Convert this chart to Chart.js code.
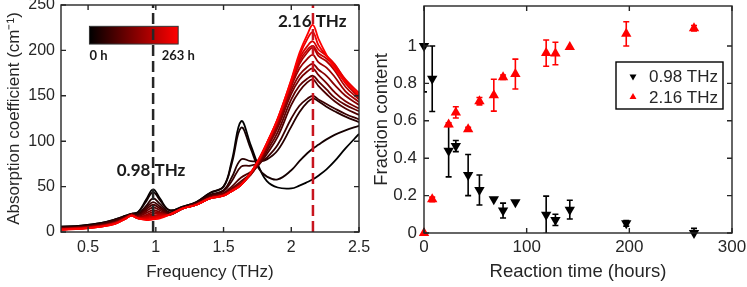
<!DOCTYPE html>
<html>
<head>
<meta charset="utf-8">
<script src="https://cdn.jsdelivr.net/npm/chart.js@4.4.0/dist/chart.umd.min.js"></script>
<style>
  html, body { margin: 0; padding: 0; background: #fff; }
  #wrap { position: relative; width: 747px; height: 287px; }
  canvas { position: absolute; top: 0; }
  #spec { left: 0; }
  #frac { left: 370px; }
</style>
</head>
<body>
<div id="wrap">
  <canvas id="spec" width="370" height="287"></canvas>
  <canvas id="frac" width="377" height="287"></canvas>
</div>
<script>
// ─── DATA ───
// reaction times (hours) of the spectra and of the fraction points
const TIME = [0, 8, 24, 31, 43, 54, 68, 77, 89, 119, 128, 142, 197, 263];

// frequency grid of the spectra (THz)
const FREQ = [0.3, 0.45, 0.6, 0.7, 0.78, 0.82, 0.87, 0.93, 0.98, 1.03, 1.1, 1.2, 1.3, 1.4, 1.5,
              1.56, 1.63, 1.7, 1.76, 1.82, 1.9, 2.0, 2.06, 2.12, 2.16, 2.2, 2.26, 2.32, 2.4, 2.5];

// absorption coefficient (cm^-1), one array per reaction time
const ABS_0H   = [6, 7, 10, 14, 18, 20, 22, 36, 47, 37, 24, 28, 33, 43, 50, 78, 122, 96, 72, 56, 49, 48, 51, 55, 58, 62, 69, 78, 92, 108];
const ABS_8H   = [6, 7, 10, 14, 18, 20, 22, 34, 44, 35, 24, 28, 33, 43, 50, 75, 115, 92, 70, 61, 58, 68, 78, 87, 92, 96, 102, 107, 112, 117];
const ABS_24H  = [5, 6, 9, 13, 17, 20, 20, 29, 37, 31, 22, 27, 32, 41, 46, 60, 80, 78, 78, 80, 90, 116, 132, 143, 147, 144, 138, 133, 127, 121];
const ABS_31H  = [5, 6, 9, 13, 17, 19, 19, 27, 33, 28, 21, 27, 32, 40, 45, 56, 72, 73, 76, 82, 96, 125, 139, 147, 150, 146, 141, 136, 130, 124];
const ABS_43H  = [4, 5, 8, 12, 17, 19, 18, 25, 30, 26, 20, 26, 31, 39, 43, 50, 60, 66, 74, 86, 105, 140, 155, 165, 168, 161, 152, 144, 136, 129];
const ABS_54H  = [4, 5, 8, 11, 16, 19, 17, 23, 27, 24, 19, 26, 31, 38, 42, 48, 56, 64, 75, 89, 110, 146, 161, 169, 172, 166, 157, 148, 140, 133];
const ABS_68H  = [4, 5, 7, 11, 16, 19, 17, 21, 24, 22, 19, 26, 31, 38, 42, 47, 54, 63, 76, 92, 115, 152, 168, 177, 180, 173, 164, 154, 144, 136];
const ABS_77H  = [3.5, 4.5, 7, 10, 16, 19, 16, 19, 22, 21, 19, 26, 30, 38, 41, 46, 53, 63, 77, 94, 118, 156, 173, 182, 185, 179, 172, 162, 150, 140];
const ABS_89H  = [3.5, 4.5, 7, 10, 16, 18, 16, 18, 20, 20, 19, 26, 30, 37, 41, 46, 53, 64, 78, 95, 120, 160, 180, 191, 195, 187, 181, 171, 155, 143];
const ABS_119H = [3, 4, 6.5, 10, 15, 18, 15, 17, 18, 19, 19, 26, 30, 37, 40, 45, 52, 64, 78, 96, 122, 162, 185, 198, 203, 194, 188, 178, 160, 146];
const ABS_128H = [3, 4, 6.5, 9.5, 15, 18, 15, 16, 17, 18, 19, 26, 30, 37, 40, 45, 52, 65, 79, 97, 123, 164, 188, 201, 205, 197, 191, 182, 164, 148];
const ABS_142H = [3, 4, 6, 9.5, 15, 18, 15, 15, 16, 17, 19, 26, 30, 37, 40, 45, 52, 65, 80, 98, 124, 165, 191, 205, 210, 201, 194, 185, 167, 150];
const ABS_197H = [2.5, 3.5, 6, 9, 15, 18, 15, 14, 15, 16, 19, 26, 30, 37, 40, 45, 52, 65, 80, 98, 125, 167, 194, 213, 220, 206, 194, 184, 168, 153];
const ABS_263H = [2.5, 3.5, 6, 9, 15, 18, 15, 13, 14, 15, 19, 26, 30, 37, 40, 45, 52, 65, 80, 98, 125, 168, 197, 218, 228, 213, 195, 180, 165, 151];
const SPECTRA = [ABS_0H, ABS_8H, ABS_24H, ABS_31H, ABS_43H, ABS_54H, ABS_68H, ABS_77H,
                 ABS_89H, ABS_119H, ABS_128H, ABS_142H, ABS_197H, ABS_263H];

// marked peaks (THz)
const PEAK_LOW = 0.98;
const PEAK_HIGH = 2.16;

// fraction content vs reaction time
const FRAC_098 = [1.0, 0.825, 0.44, 0.465, 0.31, 0.23, 0.18, 0.12, 0.165, 0.097, 0.07, 0.125, 0.052, 0.0];
const ERR_098  = [0.245, 0.175, 0.14, 0.03, 0.11, 0.08, 0, 0.04, 0, 0.1, 0.03, 0.05, 0.015, 0.025];
const FRAC_216 = [0.0, 0.18, 0.58, 0.645, 0.555, 0.705, 0.737, 0.833, 0.85, 0.962, 0.96, 0.995, 1.065, 1.095];
const ERR_216  = [0, 0.012, 0.01, 0.03, 0.01, 0.02, 0.085, 0.012, 0.08, 0.07, 0.06, 0, 0.065, 0.015];

// tick labels
const FREQ_TICKS = [0.5, 1, 1.5, 2, 2.5];
const ABS_TICKS = [0, 50, 100, 150, 200, 250];
const TIME_TICKS = [0, 100, 200, 300];
const FRAC_TICKS = [0, 0.2, 0.4, 0.6, 0.8, 1];

const AXIS = '#262626';
const SANS = '"Liberation Sans", Arial, sans-serif';
const BOLD = 'Lato, "Open Sans", sans-serif';

const setTicks = list => scale => { scale.ticks = list.map(v => ({ value: v })); };
// fixed axis box sizes, and no extra room for overhanging tick labels
const fitX = h => s => { s.height = h; s.paddingLeft = 0; s.paddingRight = 0; };
const fitY = w => s => { s.width = w; s.paddingTop = 0; s.paddingBottom = 0; };

// box around the plot with MATLAB style inward ticks
const frameTicks = {
  id: 'frameTicks',
  afterDraw(chart) {
    const { ctx, chartArea: a, scales: { x, y } } = chart;
    ctx.save();
    ctx.strokeStyle = AXIS;
    ctx.lineWidth = 1.4;
    ctx.strokeRect(a.left, a.top, a.right - a.left, a.bottom - a.top);
    ctx.beginPath();
    x.ticks.forEach(t => {
      const px = x.getPixelForValue(t.value);
      ctx.moveTo(px, a.bottom); ctx.lineTo(px, a.bottom - 5);
      ctx.moveTo(px, a.top); ctx.lineTo(px, a.top + 5);
    });
    y.ticks.forEach(t => {
      const py = y.getPixelForValue(t.value);
      ctx.moveTo(a.left, py); ctx.lineTo(a.left + 5, py);
      ctx.moveTo(a.right, py); ctx.lineTo(a.right - 5, py);
    });
    ctx.stroke();
    ctx.restore();
  }
};

// ── Spectra: colour bar and peak labels ──
const specExtras = {
  id: 'specExtras',
  beforeDatasetsDraw(chart) {
    const { ctx, scales: { x, y } } = chart;
    const x0 = x.getPixelForValue(0.51), x1 = x.getPixelForValue(1.165);
    const y0 = y.getPixelForValue(226.5), y1 = y.getPixelForValue(207);
    ctx.save();
    const g = ctx.createLinearGradient(x0, 0, x1, 0);
    g.addColorStop(0, '#000000');
    g.addColorStop(1, '#ff0000');
    ctx.fillStyle = g;
    ctx.fillRect(x0, y0, x1 - x0, y1 - y0);
    ctx.strokeStyle = '#333';
    ctx.lineWidth = 1;
    ctx.strokeRect(x0, y0, x1 - x0, y1 - y0);

    ctx.fillStyle = '#1a1a1a';
    ctx.textBaseline = 'middle';
    ctx.textAlign = 'left';
    ctx.font = 'bold 13px ' + BOLD;
    ctx.fillText(TIME[0] + ' h', x0, y.getPixelForValue(194));
    ctx.fillText(TIME[TIME.length - 1] + ' h', x.getPixelForValue(1.044), y.getPixelForValue(194));

    ctx.textAlign = 'center';
    ctx.font = 'bold 17px ' + BOLD;
    ctx.fillText(PEAK_LOW.toFixed(2) + ' THz', x.getPixelForValue(0.965), y.getPixelForValue(68));
    ctx.fillText(PEAK_HIGH.toFixed(2) + ' THz', x.getPixelForValue(2.155), y.getPixelForValue(232));
    ctx.restore();
  }
};

const curveColor = i => `rgb(${Math.round(255 * i / (SPECTRA.length - 1))},0,0)`;

new Chart(document.getElementById('spec'), {
  type: 'line',
  data: {
    datasets: [
      ...SPECTRA.map((arr, i) => ({
        label: TIME[i] + ' h',
        data: FREQ.map((f, k) => ({ x: f, y: arr[k] })),
        borderColor: curveColor(i),
        borderWidth: 1.8,
        pointRadius: 0,
        tension: 0.4,
        order: SPECTRA.length - i,
      })),
      { data: [{ x: PEAK_LOW, y: 0 }, { x: PEAK_LOW, y: 250 }], borderColor: AXIS, borderWidth: 2.5, borderDash: [11, 5], pointRadius: 0, order: -1 },
      { data: [{ x: PEAK_HIGH, y: 0 }, { x: PEAK_HIGH, y: 250 }], borderColor: '#c8141e', borderWidth: 2.5, borderDash: [11, 5], pointRadius: 0, order: -1 },
    ],
  },
  options: {
    responsive: false, animation: false, devicePixelRatio: 1,
    layout: { padding: { top: 5, right: 11, left: 0, bottom: 0 } },
    plugins: { legend: { display: false }, tooltip: { enabled: false } },
    scales: {
      x: {
        type: 'linear', min: 0.3, max: 2.5,
        afterBuildTicks: setTicks(FREQ_TICKS),
        afterFit: fitX(55),
        grid: { display: false, drawTicks: false }, border: { display: false },
        ticks: { color: AXIS, font: { size: 16, family: SANS }, padding: 6, maxRotation: 0, callback: v => String(v) },
        title: { display: true, text: 'Frequency (THz)', color: AXIS, font: { size: 17, family: SANS }, padding: { top: 0, bottom: 4 } },
      },
      y: {
        min: 0, max: 250,
        afterBuildTicks: setTicks(ABS_TICKS),
        afterFit: fitY(61),
        grid: { display: false, drawTicks: false }, border: { display: false },
        ticks: { color: AXIS, font: { size: 16, family: SANS }, padding: 6 },
        title: { display: true, text: 'Absorption coefficient (cm⁻¹)', color: AXIS, font: { size: 17, family: SANS }, padding: { top: 4, bottom: 0 } },
      },
    },
  },
  plugins: [specExtras, frameTicks],
});

// ── Fraction content: error bars and legend ──
const errorBars = {
  id: 'errorBars',
  beforeDatasetsDraw(chart) {
    const { ctx, chartArea: a, scales: { x, y } } = chart;
    ctx.save();
    ctx.beginPath();
    ctx.rect(a.left, a.top, a.right - a.left, a.bottom - a.top);
    ctx.clip();
    chart.data.datasets.forEach(ds => {
      ctx.strokeStyle = ds.borderColor;
      ctx.lineWidth = 1.6;
      ds.data.forEach((p, i) => {
        const e = ds.errors[i];
        if (!e) return;
        const px = x.getPixelForValue(p.x);
        const hi = y.getPixelForValue(p.y + e), lo = y.getPixelForValue(p.y - e);
        ctx.beginPath();
        ctx.moveTo(px, hi); ctx.lineTo(px, lo);
        ctx.moveTo(px - 3, hi); ctx.lineTo(px + 3, hi);
        ctx.moveTo(px - 3, lo); ctx.lineTo(px + 3, lo);
        ctx.stroke();
      });
    });
    ctx.restore();
  }
};

function triangle(ctx, cx, cy, r, down) {
  const s = down ? -1 : 1;
  ctx.beginPath();
  ctx.moveTo(cx, cy - s * r);
  ctx.lineTo(cx + r * 0.87, cy + s * r * 0.5);
  ctx.lineTo(cx - r * 0.87, cy + s * r * 0.5);
  ctx.closePath();
  ctx.fill();
}

const boxLegend = {
  id: 'boxLegend',
  afterDraw(chart) {
    const { ctx, chartArea: a } = chart;
    const w = 107, h = 47;
    const left = a.right - 9 - w, top = a.top + 56;
    ctx.save();
    ctx.fillStyle = '#fff';
    ctx.fillRect(left, top, w, h);
    ctx.strokeStyle = '#000';
    ctx.lineWidth = 1.4;
    ctx.strokeRect(left, top, w, h);
    ctx.font = '17px ' + SANS;
    ctx.textBaseline = 'middle';
    ctx.textAlign = 'left';
    chart.data.datasets.forEach((ds, i) => {
      const cy = top + 14.5 + i * 20.5;
      ctx.fillStyle = ds.backgroundColor;
      triangle(ctx, left + 17, cy, 4, ds.pointRotation === 180);
      ctx.fillStyle = AXIS;
      ctx.fillText(ds.label, left + 33, cy + 1);
    });
    ctx.restore();
  }
};

new Chart(document.getElementById('frac'), {
  type: 'scatter',
  data: {
    datasets: [
      {
        label: PEAK_LOW.toFixed(2) + ' THz',
        data: TIME.map((t, i) => ({ x: t, y: FRAC_098[i] })),
        errors: ERR_098,
        pointStyle: 'triangle', pointRotation: 180, pointRadius: 6,
        backgroundColor: '#000000', borderColor: '#000000', borderWidth: 0,
      },
      {
        label: PEAK_HIGH.toFixed(2) + ' THz',
        data: TIME.map((t, i) => ({ x: t, y: FRAC_216[i] })),
        errors: ERR_216,
        pointStyle: 'triangle', pointRotation: 0, pointRadius: 6,
        backgroundColor: '#ff0000', borderColor: '#ff0000', borderWidth: 0,
      },
    ],
  },
  options: {
    responsive: false, animation: false, devicePixelRatio: 1,
    clip: false,
    layout: { padding: { top: 6, right: 15, left: 0, bottom: 0 } },
    plugins: { legend: { display: false }, tooltip: { enabled: false } },
    scales: {
      x: {
        type: 'linear', min: 0, max: 300,
        afterBuildTicks: setTicks(TIME_TICKS),
        afterFit: fitX(54),
        grid: { display: false, drawTicks: false }, border: { display: false },
        ticks: { color: AXIS, font: { size: 17, family: SANS }, padding: 4, maxRotation: 0 },
        title: { display: true, text: 'Reaction time (hours)', color: AXIS, font: { size: 18.5, family: SANS }, padding: { top: 0, bottom: 4 } },
      },
      y: {
        min: 0, max: 1.214,
        afterBuildTicks: setTicks(FRAC_TICKS),
        afterFit: fitY(54),
        grid: { display: false, drawTicks: false }, border: { display: false },
        ticks: { color: AXIS, font: { size: 17, family: SANS }, padding: 7, callback: v => String(v) },
        title: { display: true, text: 'Fraction content', color: AXIS, font: { size: 18.5, family: SANS }, padding: { top: 1, bottom: 0 } },
      },
    },
  },
  plugins: [errorBars, frameTicks, boxLegend],
});
</script>
</body>
</html>
